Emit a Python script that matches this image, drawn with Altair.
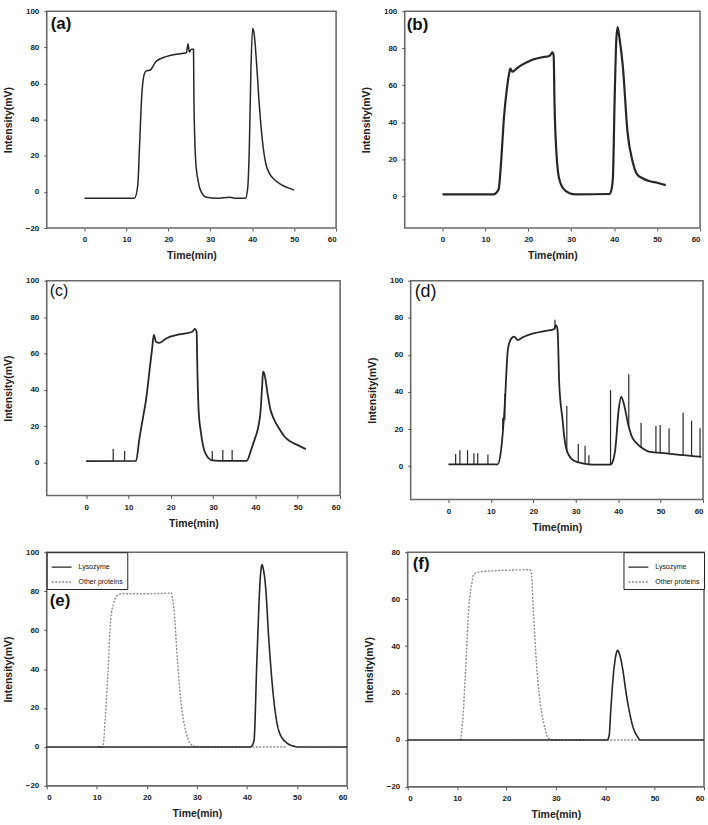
import altair as alt
import pandas as pd

# ---------------- (a) ----------------
a_time = [0, 5, 11.9, 12.7, 13.1, 13.6, 14.2, 14.7, 15.7, 17, 19.5, 21.9, 24.3, 24.7,
          25.0, 25.5, 26.0, 26.1, 26.5, 27.1, 27.9, 29.1, 31.5, 34.7, 36, 38.4, 38.9,
          39.3, 39.7, 40.1, 40.4, 41.1, 41.6, 42.4, 43.2, 44.0, 45.2, 46.8, 48.4, 50.0]
a_int = [-3.5, -3.5, -3.5, 3.3, 23.5, 51, 64.8, 67, 67.5, 72, 74.9, 76.2, 77, 82,
         77.5, 79, 79, 51, 18, 6, -0.3, -3, -3.5, -2.9, -3.5, -3.5, 1.5,
         23.5, 69, 90.5, 88.5, 69, 51, 29, 16, 10.7, 7, 4.2, 2.4, 1]

# ---------------- (b) ----------------
b_time = [0, 11.9, 12.6, 13.1, 13.7, 14.3, 15.0, 15.5, 15.8, 16.3, 17, 18.5, 20.4, 23,
          25, 25.6, 25.9, 26.1, 26.5, 26.9, 27.5, 28.1, 29.6, 31, 38.9, 39.4, 39.7,
          40.1, 40.5, 40.8, 41.2, 42.0, 43.1, 44.3, 45.3, 46.6, 48.1, 50, 52]
b_int = [1, 1, 2, 4, 20, 42, 58, 66, 69, 67.3, 68.5, 71, 73.3, 75,
         76, 77.8, 76, 50, 25, 13.3, 7, 4.3, 1.6, 1, 1.2, 4, 10,
         52, 85, 91.5, 86, 70.6, 34.8, 18.7, 12, 9.7, 8.2, 7.3, 6]

# ---------------- (c) ----------------
c_time = [0, 11.8, 12.6, 13.4, 14.2, 15.0, 15.6, 16.0, 16.5, 17.3, 18.9, 22, 25.1,
          25.7, 26.1, 26.3, 26.6, 27.1, 27.6, 28.2, 29.8, 33, 37.9, 39.1, 39.9, 40.6,
          41.2, 41.6, 41.8, 42.2, 42.8, 43.5, 44.3, 45.6, 46.9, 48.4, 50, 51.9]
c_int = [0.9, 1, 13.4, 24.3, 35.3, 51, 62.8, 70.2, 66.5, 65.9, 68.3, 70.5, 72,
         73.5, 72, 50, 28, 17, 9.7, 5.1, 1.3, 1, 1, 7.9, 13.4, 18.8,
         28, 42.6, 50, 48, 39, 29.7, 24.3, 18.8, 14.3, 11.5, 9.7, 7.5]
c_spike_time = [6.4, 9.1, 29.8, 32.3, 34.5]
c_spike_base = [1, 1, 1.3, 1, 1]
c_spike_top = [7.5, 6.4, 6.5, 7, 7]

# ---------------- (d) ----------------
d_time = [0, 11.6, 12.4, 13.2, 14.0, 14.6, 15.1, 15.5, 16.3, 17.5, 20.2, 23, 24.9,
          25.3, 25.6, 25.8, 26.1, 26.9, 27.4, 28.0, 29.6, 31.9, 34, 38.2, 38.8, 39.3,
          40.1, 40.7, 41.3, 42.5, 43.3, 44.4, 45.8, 47.5, 51.4, 55.3, 59.6]
d_int = [0.9, 0.9, 8.6, 30, 62.7, 68, 69.5, 69.9, 68, 69.5, 71.7, 73, 73.9,
         76, 75, 70, 45, 24.9, 14, 7.7, 2.9, 1.4, 0.8, 0.8, 3, 8.6,
         30, 37.5, 33.9, 21.2, 15.5, 12.3, 9.5, 7.7, 6.9, 5.9, 5]
d_spike_time = [1.7, 2.7, 4.5, 6.0, 6.9, 9.3, 12.8, 13.3, 25.1, 27.9, 30.6, 32.2, 33.1,
                38.2, 42.5, 45.4, 48.9, 49.9, 52.0, 55.3, 57.3, 59.3]
d_spike_base = [0.9, 0.9, 0.9, 0.9, 0.9, 0.9, 20, 25, 74, 8, 2, 1.4, 1.2,
                0.8, 21.2, 10, 7.5, 7.3, 6.8, 5.9, 5.5, 5.1]
d_spike_top = [6.5, 8.6, 8.6, 7, 7, 6.3, 26, 39, 79, 32.4, 11.9, 11, 5.9,
               41, 49.6, 23.4, 21.6, 22.2, 20.4, 28.8, 24.5, 20.4]

# ---------------- (e) ----------------
e_other_time = [10.2, 11.2, 11.7, 12.2, 12.8, 13.3, 13.8, 15.1, 20, 24.5, 24.8, 25.4,
                26.1, 26.8, 27.3, 27.8, 28.7, 30.1, 40, 48]
e_other_int = [0, 0, 15, 37, 66, 73, 77, 78.7, 78.7, 79, 79.3, 71,
               45.5, 23.4, 14, 8, 1.6, 0, 0, 0]
e_lyso_time = [0, 40.7, 41.4, 42.0, 42.7, 43.0, 43.3, 43.7, 44.4, 45.4, 46.4, 48, 49.5, 50, 60]
e_lyso_int = [0, 0, 3, 45.5, 88, 93.5, 91, 83, 54, 23.4, 8, 2, 0.3, 0, 0]

# ---------------- (f) ----------------
f_other_time = [10.7, 11.2, 11.7, 12.4, 13.0, 13.4, 15.1, 24.7, 25.0, 25.4, 26.1, 26.6,
                27.1, 27.8, 28.4, 29.4, 40, 47.5]
f_other_int = [0, 10, 29, 57, 67, 70.7, 71.8, 72.5, 72, 57, 31.8, 20,
               12, 5, 0.8, 0, 0, 0]
f_lyso_time = [0, 40.4, 40.8, 41.1, 41.7, 42.1, 42.5, 42.9, 43.4, 44.4, 45.7, 46.5, 47.1, 60]
f_lyso_int = [0, 0, 2, 12, 29, 35.5, 38.2, 36.5, 31.8, 17.7, 5, 1.5, 0, 0]

SERIES = ["Lysozyme", "Other proteins"]
LINE = "#262626"
GREY = "#8c8c8c"
FONT = "Liberation Sans"
X_TICKS = [0, 10, 20, 30, 40, 50, 60]


def enc_xy(xdom, ydom, yticks):
    x = alt.X("t:Q", scale=alt.Scale(domain=xdom, nice=False, zero=False),
              axis=alt.Axis(values=X_TICKS, title="Time(min)"))
    y = alt.Y("v:Q", scale=alt.Scale(domain=ydom, nice=False, zero=False),
              axis=alt.Axis(values=yticks, title="Intensity(mV)"))
    return x, y


def tag(letter, size, weight, dx, dy):
    return alt.Chart(pd.DataFrame({"lab": [letter]})).mark_text(
        font=FONT, fontSize=size, fontWeight=weight, color="#111",
        align="left", baseline="middle"
    ).encode(text="lab:N", x=alt.value(dx), y=alt.value(dy))


def trace_panel(label, times, vals, xdom, ydom, yticks, w, h, sw,
                sp_t=None, sp_b=None, sp_top=None):
    x, y = enc_xy(xdom, ydom, yticks)
    df = pd.DataFrame({"t": times, "v": vals})
    layers = [alt.Chart(df).mark_line(color=LINE, strokeWidth=sw,
                                      interpolate="monotone").encode(x=x, y=y)]
    if sp_t:
        sdf = pd.DataFrame({"t": sp_t, "v": sp_b, "v2": sp_top})
        layers.append(alt.Chart(sdf).mark_rule(color=LINE, strokeWidth=1.2).encode(
            x=x, y=y, y2="v2:Q"))
    layers.append(label)
    return alt.layer(*layers).properties(width=w, height=h)


def sim_panel(label, o_t, o_v, l_t, l_v, ydom, yticks, w, h, legend_orient):
    x, y = enc_xy([0, 60], ydom, yticks)
    color = alt.Color("s:N", scale=alt.Scale(domain=SERIES, range=[LINE, GREY]),
                      legend=alt.Legend(title=None, orient=legend_orient))
    dash = alt.StrokeDash("s:N", scale=alt.Scale(domain=SERIES, range=[[1, 0], [2, 1.5]]),
                          legend=alt.Legend(title=None, orient=legend_orient))
    odf = pd.DataFrame({"t": o_t, "v": o_v, "s": SERIES[1]})
    ldf = pd.DataFrame({"t": l_t, "v": l_v, "s": SERIES[0]})
    other = alt.Chart(odf).mark_line(strokeWidth=1.4, interpolate="monotone").encode(
        x=x, y=y, color=color, strokeDash=dash)
    lyso = alt.Chart(ldf).mark_line(strokeWidth=1.6, interpolate="monotone").encode(
        x=x, y=y, color=color, strokeDash=dash)
    return alt.layer(other, lyso, label).properties(width=w, height=h)


pa = trace_panel(tag("(a)", 17, "bold", 4, 13), a_time, a_int, [-9, 60], [-20, 100],
                 [-20, 0, 20, 40, 60, 80, 100], 291, 218, 1.5)
pb = trace_panel(tag("(b)", 17, "bold", 2, 14), b_time, b_int, [-8.8, 60], [-17.2, 100],
                 [0, 20, 40, 60, 80, 100], 297, 218, 2.2)
pc = trace_panel(tag("(c)", 16, "normal", 3, 10), c_time, c_int, [-9.3, 60], [-18, 100],
                 [0, 20, 40, 60, 80, 100], 295, 216, 1.8,
                 c_spike_time, c_spike_base, c_spike_top)
pd_ = trace_panel(tag("(d)", 18, "normal", 4, 11), d_time, d_int, [-8.9, 60], [-18, 100],
                  [0, 20, 40, 60, 80, 100], 294, 220, 1.8,
                  d_spike_time, d_spike_base, d_spike_top)
pe = sim_panel(tag("(e)", 17, "bold", 3, 49), e_other_time, e_other_int,
               e_lyso_time, e_lyso_int, [-20, 100], [-20, 0, 20, 40, 60, 80, 100],
               302, 235, "top-left")
pf = sim_panel(tag("(f)", 17, "bold", 5, 12), f_other_time, f_other_int,
               f_lyso_time, f_lyso_int, [-20, 80], [-20, 0, 20, 40, 60, 80],
               298, 236, "top-right")

row1 = alt.hconcat(pa, pb, spacing=69, bounds="flush")
row2 = alt.hconcat(pc, pd_, spacing=71, bounds="flush")
row3 = alt.hconcat(pe, pf, spacing=61, bounds="flush")

chart = alt.vconcat(row1, row2, row3, spacing=13).properties(
    padding={"left": 2, "top": 4, "right": 0, "bottom": 0}
).configure_view(
    stroke="#6a6a6a", strokeWidth=1.6
).configure_axis(
    domain=False, grid=False, tickSize=3, tickColor="#555", tickWidth=1,
    labelFont=FONT, labelFontSize=8, labelFontWeight="bold", labelColor="#222",
    labelPadding=5, titleFont=FONT, titleFontSize=10.5, titleFontWeight="bold",
    titleColor="#222", titlePadding=12
).configure_axisX(
    titlePadding=7
).configure_legend(
    labelFont=FONT, labelFontSize=7, labelColor="#111", symbolType="stroke",
    symbolSize=400, symbolStrokeWidth=1.5, strokeColor="#222", padding=4,
    offset=0, rowPadding=1, fillColor="white", labelOffset=6, symbolOpacity=1
)

chart.save("out.html", embed_options={"renderer": "svg", "actions": False})
